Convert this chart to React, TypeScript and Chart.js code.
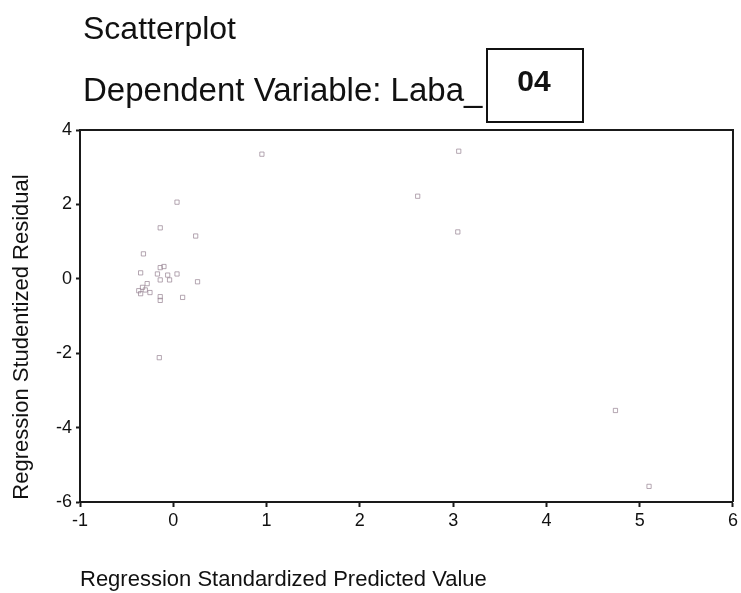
import React, { useEffect, useRef } from "react";
import { Chart, registerables } from "chart.js";

Chart.register(...registerables);

// Standardized predicted values (x) and studentized residuals (y)
const predicted = [
  0.95, 3.06, 2.62, 3.05, 0.04, -0.14, 0.24, -0.32, -0.14, -0.1, -0.35, -0.17,
  -0.06, 0.04, -0.14, -0.04, 0.26, -0.28, -0.33, -0.37, -0.35, -0.25, -0.3,
  -0.14, 0.1, -0.14, -0.15, 4.74, 5.1,
];
const residuals = [
  3.35, 3.43, 2.22, 1.26, 2.06, 1.37, 1.15, 0.67, 0.3, 0.33, 0.16, 0.13, 0.1,
  0.13, -0.03, -0.03, -0.08, -0.13, -0.23, -0.32, -0.4, -0.37, -0.3, -0.48,
  -0.5, -0.58, -2.12, -3.54, -5.58,
];

const xTicks = [-1, 0, 1, 2, 3, 4, 5, 6];
const yTicks = [-6, -4, -2, 0, 2, 4];

const titleLine1 = "Scatterplot";
const titleLine2 = "Dependent Variable: Laba_";
const boxLabel = "04";
const xTitle = "Regression Standardized Predicted Value";
const yTitle = "Regression Studentized Residual";

const FONT = "'Liberation Sans', Arial, sans-serif";

const decorations = {
  id: "decorations",
  afterDraw(chart: any) {
    const { ctx, chartArea } = chart;
    ctx.save();
    // frame top and right
    ctx.strokeStyle = "#1a1a1a";
    ctx.lineWidth = 2;
    ctx.beginPath();
    ctx.moveTo(chartArea.left, chartArea.top);
    ctx.lineTo(chartArea.right, chartArea.top);
    ctx.lineTo(chartArea.right, chartArea.bottom);
    ctx.stroke();

    ctx.fillStyle = "#111";
    ctx.textBaseline = "alphabetic";
    ctx.textAlign = "left";
    ctx.font = `32px ${FONT}`;
    ctx.fillText(titleLine1, 83, 39);
    ctx.font = `33px ${FONT}`;
    ctx.fillText(titleLine2, 83, 101);

    // boxed label
    ctx.fillStyle = "#fff";
    ctx.fillRect(487, 49, 96, 73);
    ctx.strokeStyle = "#111";
    ctx.lineWidth = 2;
    ctx.strokeRect(487, 49, 96, 73);
    ctx.fillStyle = "#111";
    ctx.font = `bold 30px ${FONT}`;
    ctx.textAlign = "center";
    ctx.textBaseline = "middle";
    ctx.fillText(boxLabel, 534, 83);

    // axis titles
    ctx.font = `22px ${FONT}`;
    ctx.textAlign = "left";
    ctx.textBaseline = "alphabetic";
    ctx.fillText(xTitle, 80, 586);

    ctx.translate(28, 337);
    ctx.rotate(-Math.PI / 2);
    ctx.textAlign = "center";
    ctx.fillText(yTitle, 0, 0);
    ctx.restore();
  },
};

export default function App() {
  const canvasRef = useRef<HTMLCanvasElement | null>(null);

  useEffect(() => {
    const canvas = canvasRef.current;
    if (!canvas) return;
    const points = predicted.map((x, i) => ({ x, y: residuals[i] }));
    const chart = new Chart(canvas, {
      type: "scatter",
      data: {
        datasets: [
          {
            data: points,
            pointStyle: "rect",
            pointRadius: 3,
            pointBorderWidth: 1,
            pointBackgroundColor: "rgba(255,255,255,0)",
            pointBorderColor: "rgba(150,130,145,0.7)",
          },
        ],
      },
      options: {
        responsive: false,
        animation: false,
        layout: { padding: { top: 130, right: 7, left: 0, bottom: 0 } },
        plugins: {
          legend: { display: false },
          tooltip: { enabled: false },
        },
        scales: {
          x: {
            type: "linear",
            min: -1,
            max: 6,
            afterBuildTicks: (scale: any) => {
              scale.ticks = xTicks.map((v) => ({ value: v }));
            },
            afterFit: (scale: any) => {
              scale.height = 91;
            },
            grid: {
              drawOnChartArea: false,
              drawTicks: true,
              tickLength: 5,
              tickWidth: 2,
              tickColor: "#1a1a1a",
            },
            border: { display: true, color: "#1a1a1a", width: 2 },
            ticks: {
              color: "#111",
              padding: 3,
              maxRotation: 0,
              font: { family: FONT, size: 18 },
            },
          },
          y: {
            type: "linear",
            min: -6,
            max: 4,
            afterBuildTicks: (scale: any) => {
              scale.ticks = yTicks.map((v) => ({ value: v }));
            },
            afterFit: (scale: any) => {
              scale.width = 80;
            },
            grid: {
              drawOnChartArea: false,
              drawTicks: true,
              tickLength: 4,
              tickWidth: 2,
              tickColor: "#1a1a1a",
            },
            border: { display: true, color: "#1a1a1a", width: 2 },
            ticks: {
              color: "#111",
              padding: 4,
              font: { family: FONT, size: 18 },
            },
          },
        },
      },
      plugins: [decorations],
    });
    return () => chart.destroy();
  }, []);

  return (
    <div style={{ position: "fixed", left: 0, top: 0, width: 741, height: 593, background: "#fff" }}>
      <canvas ref={canvasRef} width={741} height={593} style={{ display: "block" }} />
    </div>
  );
}
